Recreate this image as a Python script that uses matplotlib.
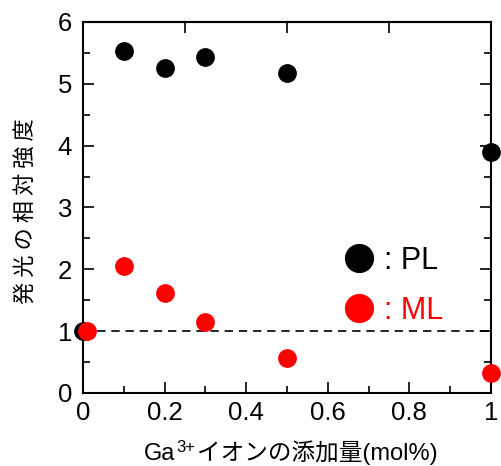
import matplotlib
matplotlib.use("Agg")
import matplotlib.pyplot as plt
from matplotlib.ticker import MultipleLocator, FixedLocator, FixedFormatter

plt.rcParams['font.family'] = ['Liberation Sans', 'Noto Sans CJK JP', 'DejaVu Sans']

# data
pl_x = [0.0, 0.1, 0.2, 0.3, 0.5, 1.0]
pl_y = [1.0, 5.53, 5.25, 5.44, 5.17, 3.90]
ml_x = [0.01, 0.1, 0.2, 0.3, 0.5, 1.0]
ml_y = [1.0, 2.05, 1.61, 1.14, 0.57, 0.33]
ref_level = 1.0

xticks = [0, 0.2, 0.4, 0.6, 0.8, 1.0]
xticklabels = ['0', '0.2', '0.4', '0.6', '0.8', '1']
top_ticks = [0, 0.25, 0.5, 0.75, 1.0]

fig = plt.figure(figsize=(5.01, 4.66), dpi=100)
ax = fig.add_axes([0.1657, 0.1567, 0.8143, 0.7961])

ax.axhline(ref_level, color='black', lw=1.2, ls=(0, (5, 3.5)), zorder=1)
ax.plot(pl_x, pl_y, 'o', color='black', ms=12.5, clip_on=False, zorder=3, label=': PL')
ax.plot(ml_x, ml_y, 'o', color='red', ms=12.5, clip_on=False, zorder=4, label=': ML')

ax.set_xlim(0, 1)
ax.set_ylim(0, 6)

ax.xaxis.set_major_locator(FixedLocator(xticks))
ax.xaxis.set_major_formatter(FixedFormatter(xticklabels))
ax.xaxis.set_minor_locator(MultipleLocator(0.1))
ax.yaxis.set_major_locator(MultipleLocator(1))
ax.yaxis.set_minor_locator(MultipleLocator(0.5))
ax.tick_params(which='both', direction='in', right=True, top=False, width=1.2, labelsize=18.5)
ax.tick_params(which='major', length=8)
ax.tick_params(which='minor', length=5)
ax.tick_params(axis='x', pad=6)
ax.tick_params(axis='y', pad=8)

sec = ax.secondary_xaxis('top')
sec.set_xticks(top_ticks)
sec.tick_params(direction='in', length=8, width=1.2, labeltop=False)

for s in list(ax.spines.values()) + list(sec.spines.values()):
    s.set_linewidth(1.5)

ax.set_ylabel('発 光 の 相 対 強 度', fontsize=16, family=['Noto Sans CJK JP'])
ax.yaxis.label.set_va('center')
ax.yaxis.set_label_coords(-0.14, 0.49)

# x label built from pieces: "Ga", superscript "3+", then the Japanese part
t1 = ax.text(0.150, -0.181, 'Ga', transform=ax.transAxes, ha='left', va='baseline', fontsize=17)
t2 = ax.annotate('3+', xy=(1.0, 1.12), xycoords=t1, xytext=(0.5, 0), textcoords='offset points',
                 ha='left', va='top', fontsize=12)
t3 = ax.annotate('イオンの添加量(mol%)', xy=(1.0, 0.0), xycoords=(t2, t1), xytext=(1.5, 0),
                 textcoords='offset points', ha='left', va='bottom', fontsize=17)

leg = ax.legend(loc='center left', bbox_to_anchor=(0.586, 0.289), frameon=False, fontsize=22,
                markerscale=1.6, handlelength=0.6, handletextpad=0.53, labelspacing=0.65,
                labelcolor='linecolor')

fig.savefig('out.png', dpi=100)
